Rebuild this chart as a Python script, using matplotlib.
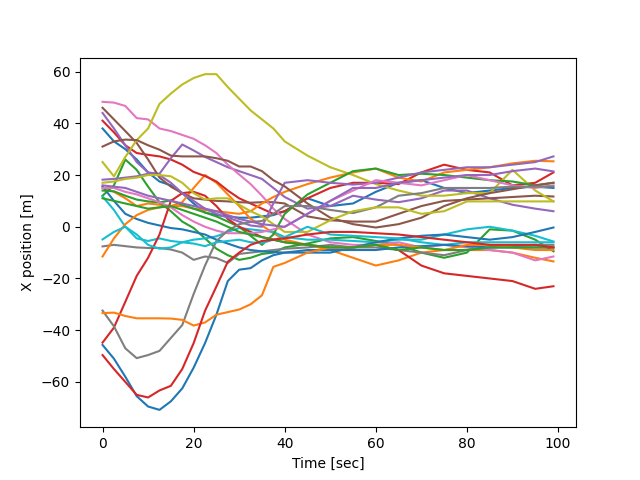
import matplotlib
matplotlib.use("Agg")
import matplotlib.pyplot as plt

# Sample times [sec]
T = [0, 2.5, 5, 7.5, 10, 12.5, 15, 17.5, 20, 22.5, 25, 27.5, 30, 32.5, 35, 37.5, 40,
     45, 50, 55, 60, 65, 70, 75, 80, 85, 90, 95, 99]

# X position [m] of each track, read at the sample times
b1 = [38, 33, 30, 26, 21, 17.5, 16, 13, 9, 5.5, 4.5, 4, 3.5, 3.5, 4, 4.5, 6,
      11, 8, 9, 13.5, 17, 18, 15, 13, 14, 15, 15.5, 15]
o1 = [15, 13.5, 11, 8, 9, 8.5, 8, 9.5, 15, 20, 17, 12.5, 8, 3, 0.5, -2.5, -5,
      -7, -9, -12, -15, -13, -10, -9, -9, -9, -10, -12, -13.4]
g1 = [12, 16, 26, 22, 15.5, 9.5, 6, 2, -0.5, -4.5, -8.5, -11, -12.8, -12, -10.5, -10, -8,
      -6.5, -4.5, -4, -5.5, -7, -10, -12, -10, -1, -1.5, -5, -9.5]
r1 = [41, 36.5, 31.5, 28.5, 27.8, 27.2, 26, 24, 21.2, 19.6, 17.5, 14, 11, 9, 7, 5, 6,
      11, 15, 17, 17, 16.5, 21, 24, 22, 21, 16, 17, 21]
p1 = [44, 38, 31.5, 25, 21, 20.5, 26.5, 31.8, 29.5, 27, 25, 23, 21.5, 20, 18.5, 15, 11.5,
      7, 8, 12, 10.5, 9.5, 11, 14, 14, 11, 8.5, 7, 6]
br1 = [46, 41.5, 37, 32.4, 26, 19, 15.5, 13, 11, 10.5, 10, 9.8, 9.5, 9.3, 9.5, 9.5, 9,
       4, 2.5, 2, 2, 5, 8, 10, 10.5, 11, 11.5, 12, 11.7]
pk1 = [48.3, 48, 46.7, 42, 41.5, 38, 37, 35.5, 34, 31.5, 28.5, 24, 20.2, 16.5, 12, 7, 3,
       -3, -6, -7, -7, -6, -8, -7, -8, -9, -10, -13, -11.5]
gy1 = [-7.6, -7, -7.5, -8, -8.2, -8.2, -8.8, -10, -12.8, -11.5, -12.1, -14, -10.5, -10, -9.5, -9, -8.5,
       -8, -7, -8, -8, -9, -10, -11, -9, -8, -7.5, -7, -7]
ol1 = [25, 19.5, 27, 33.5, 38, 47.5, 51.5, 55, 57.5, 59, 59, 54, 49.5, 45, 41.5, 38, 33,
       27.5, 23, 20, 16.5, 14, 12, 12, 13, 13, 22, 14, 9.8]
c1 = [11.7, 6.5, 0, -4.5, -5.5, -4.5, -5.5, -6, -5, -4.5, -3.7, -2, -0.5, -1, -1.5, -2, -4,
      -5, -5, -5.5, -6, -5, -5, -3, -1, 0, -1.5, -3.5, -5.7]
b2 = [15.6, 10, 5, 3, 1.5, 0.5, -0.5, -1, -2, -3, -5, -6.5, -8, -9, -9.5, -9.8, -10,
      -10, -10, -8, -6, -4.5, -3.5, -3, -4, -5, -4, -2, -0.3]
o2 = [-11.5, -4.5, 1, 4.5, 6.5, 7.5, 8, 8, 7, 6.5, 6, 5.5, 5, 6, 9, 11.5, 13.5,
      16.5, 19, 21, 22.5, 19, 17.5, 21, 22, 23, 24.5, 25.5, 25.3]
g2 = [14, 13.7, 12, 10.5, 9.8, 9.4, 10.2, 8.5, 7, 5.5, 4, 2, 0, -3.5, -7, -3, 5,
      12.5, 17, 21.5, 22.5, 20, 20.5, 20, 19, 18, 17.5, 16, 17]
r2 = [-44.8, -39, -29, -19, -12, -3, 10, 13, 13.5, 12, 8, 3, 0, -2, -4, -5, -6,
      -7, -8, -8, -7, -9, -15, -18, -19, -20, -21, -24, -23]
p2 = [18.2, 18.5, 19, 19.5, 20.5, 20, 17, 13, 10, 7, 5, 3.5, 2, 0.5, 0, 9, 17,
      18, 17, 16.3, 17, 19, 21, 22, 23, 23, 24, 25, 27.2]
br2 = [31, 33, 33.7, 33.5, 31.5, 29.8, 27.5, 27.2, 27.2, 27.2, 26.5, 25.5, 23.3, 23.3, 21.5, 18, 15.6,
       9, 3.5, 1, -0.3, 1, 3.5, 8, 11, 13, 14.5, 16, 17]
pk2 = [15, 15, 13.5, 12.5, 11, 9.5, 7.5, 4.5, 2, 0, -1.5, -2.5, -2.5, -2.5, -2, -1, 0,
       5, 10, 14, 18, 17, 16, 18, 20, 18, 16, 15, 16]
gy2 = [-32.4, -38.5, -47, -50.8, -49.6, -48, -43, -38, -26, -15, -5.5, -1.5, 1, 1.8, 2.2, 5, 8,
       8, 6.5, 5.3, 7.5, 12, 13, 15, 15, 15, 15.5, 15.5, 15.6]
ol2 = [17, 17.5, 18.5, 19, 20, 20, 19.5, 17, 13, 10.5, 11, 11, 8.5, 6, 4, 1, -2,
       -2, 2.5, 6, 7.5, 7.5, 5, 6, 9.8, 9.8, 9.8, 9.8, 9.8]
c2 = [-4.9, -2, 0, -3, -7, -8.5, -8, -6, -6.5, -7.5, -6, -5.5, -5, -6, -6.3, -5, -4,
      0, -3, -3.5, -4, -4.5, -6, -7, -6, -6, -6, -6, -6]
b3 = [-45.7, -51, -58, -65.5, -69.5, -70.8, -67.5, -62.5, -54.5, -45, -34, -21, -16.6, -16, -13, -11, -10,
      -9, -9, -9, -9, -8, -7.5, -7, -7.5, -8, -8, -8, -8]
o3 = [-33.4, -33.2, -34.5, -35.4, -35.4, -35.4, -35.5, -36, -38.2, -37, -34, -33, -32, -30, -26.5, -15.5, -14,
      -10, -8, -8, -7, -7, -8, -9, -7, -7, -8, -9, -9]
g3 = [11, 10, 9, 8, 7, 7.5, 8, 6.5, 5, 3.5, 2, 0, -2, -3, -4, -5, -6,
      -7, -8, -8, -7, -9, -8, -9, -9, -8, -8, -8, -8]
r3 = [-49.6, -55, -60, -65, -66, -63.3, -61.5, -55, -45, -32.5, -23.1, -13.5, -10, -7, -5.5, -5, -4.5,
      -3, -2, -2, -2.5, -3, -4, -5, -6, -7, -7, -7, -8]
p3 = [16, 15.5, 15, 13.5, 12, 11, 10, 9, 8, 7, 6, 4.5, 3, 2, 1, 0.5, 0,
      5, 10, 15, 15, 17, 18, 19, 20, 20, 21.5, 22.5, 21.4]

tracks = [b1, o1, g1, r1, p1, br1, pk1, gy1, ol1, c1,
          b2, o2, g2, r2, p2, br2, pk2, gy2, ol2, c2,
          b3, o3, g3, r3, p3]

fig, ax = plt.subplots(figsize=(6.4, 4.8), dpi=100)
for track in tracks:
    ax.plot(T, track)
ax.set_xlabel("Time [sec]")
ax.set_ylabel("X position [m]")
ax.set_xlim(-4.95, 103.95)
ax.set_ylim(-77.5, 65.4)
fig.savefig("out.png", dpi=100)
